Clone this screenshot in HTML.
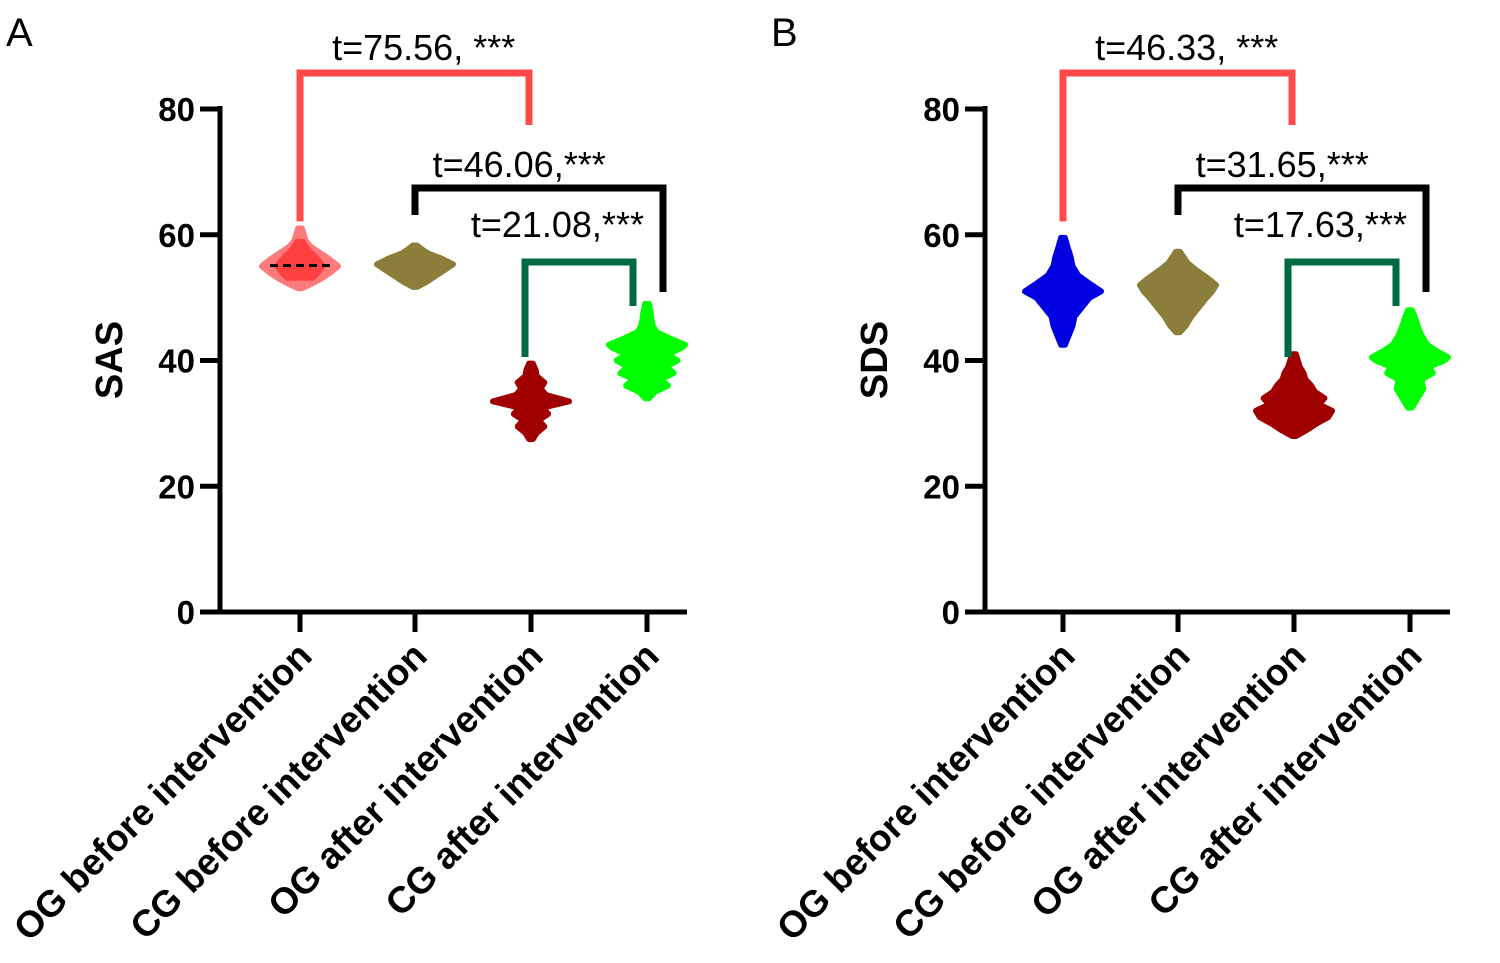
<!DOCTYPE html>
<html><head><meta charset="utf-8"><style>
body{margin:0;background:#fff}
svg{display:block}
text{font-family:"Liberation Sans",sans-serif}
</style></head><body>
<svg id="c" width="1500" height="963" viewBox="0 0 1500 963"></svg>
<script>
const categories=["OG before intervention","CG before intervention","OG after intervention","CG after intervention"];
const yTicks=[0,20,40,60,80];
// violin profiles: values and relative density
const aVals=[[51.5,52.2,53,54,55,56,57,58,59,60,61],[51.7,52.5,53.5,54.5,55.3,56.2,57,57.6,58.3],[27.5,28.5,29.5,30.5,31.5,32.5,33.5,34.5,35.5,36.5,37.5,38.5,39.5],[34,35,36,37,38,39,40,41,42,42.5,43.5,44.5,45.5,46.5,47.5,49]];
const aDens=[[0.05,0.3,0.55,0.8,1,0.8,0.55,0.3,0.15,0.1,0.05],[0.05,0.3,0.55,0.8,1,0.7,0.35,0.2,0.05],[0.05,0.15,0.35,0.2,0.45,0.3,1,0.4,0.25,0.35,0.15,0.12,0.05],[0.05,0.2,0.55,0.35,0.7,0.5,0.8,0.55,0.9,1,0.6,0.25,0.15,0.12,0.1,0.05]];
const bVals=[[42.5,44,45.5,47,48.5,50,51,52,53.5,55,56.5,58,59.5],[44.5,45.5,47,48.5,50,51,52,53,54.5,55.5,57.3],[28,29,30,31,32,33,34,35,36,37,38,39,41],[32.5,34,35.5,37,38,39,40,40.5,41.5,42.5,44,45.5,47,48]];
const bDens=[[0.05,0.15,0.25,0.3,0.5,0.7,1,0.75,0.4,0.25,0.2,0.12,0.05],[0.05,0.2,0.35,0.55,0.75,0.9,1,0.8,0.45,0.25,0.05],[0.05,0.35,0.6,0.9,1,0.65,0.8,0.55,0.45,0.3,0.25,0.15,0.05],[0.05,0.2,0.35,0.3,0.6,0.5,0.9,1,0.7,0.45,0.3,0.2,0.12,0.05]];
const colorsA=["#ff7b7b","#8b7d3a","#a00000","#00ff00"];
const colorsB=["#0000e0","#8b7d3a","#a00000","#00ff00"];
// comparisons: [from idx, to idx, label]
const compA=[[0,2,"t=75.56, ***"],[1,3,"t=46.06,***"],[2,3,"t=21.08,***"]];
const compB=[[0,2,"t=46.33, ***"],[1,3,"t=31.65,***"],[2,3,"t=17.63,***"]];

const svg=document.getElementById('c');
const NS="http://www.w3.org/2000/svg";
function el(t,a,p){const e=document.createElementNS(NS,t);for(const k in a)e.setAttribute(k,a[k]);(p||svg).appendChild(e);return e;}
const y=v=>612-v*6.2875;

function panel(ax,xs,letter,title,vals,dens,cols,comps,firstDash){
  const g=el('g',{});
  
  
  const L=el('text',{x:ax-214,y:46,'font-size':40},g);L.textContent=letter;
  
  const ya=el('line',{x1:ax,y1:106,x2:ax,y2:613,stroke:'#000','stroke-width':5},g);
  
  const xa=el('line',{x1:ax-2,y1:612,x2:xs[3]+40,y2:612,stroke:'#000','stroke-width':5},g);
  
  yTicks.forEach(t=>{
    el('line',{x1:ax-20,y1:y(t),x2:ax,y2:y(t),stroke:'#000','stroke-width':5},g);
    const tx=el('text',{x:ax-25,y:y(t)+12,'font-size':33,'font-weight':'bold','text-anchor':'end'},g);
    tx.textContent=t;
  });
  const yt=el('text',{transform:`translate(${ax-98},360) rotate(-90)`,'font-size':38,'font-weight':'bold','text-anchor':'middle'},g);
  yt.textContent=title;
  categories.forEach((c,i)=>{
    el('line',{x1:xs[i],y1:612,x2:xs[i],y2:632,stroke:'#000','stroke-width':5},g);
    const t=el('text',{transform:`translate(${xs[i]+14},658) rotate(-45)`,'font-size':37,'font-weight':'bold','text-anchor':'end'},g);
    t.textContent=c;
    const v=vals[i],d=dens[i];let pts=[];
    for(let k=0;k<v.length;k++)pts.push([xs[i]+d[k]*38,y(v[k])]);
    for(let k=v.length-1;k>=0;k--)pts.push([xs[i]-d[k]*38,y(v[k])]);
    const p=el('polygon',{points:pts.map(q=>q.join(',')).join(' '),fill:cols[i],stroke:cols[i],'stroke-width':6,'stroke-linejoin':'round'},g);
    
    if(i===0&&firstDash){
      let ip=[];for(let k=2;k<v.length-2;k++)ip.push([xs[i]+d[k]*24,y(v[k])]);
      for(let k=v.length-3;k>=2;k--)ip.push([xs[i]-d[k]*24,y(v[k])]);
      el('polygon',{points:ip.map(q=>q.join(',')).join(' '),fill:'#ff4040',stroke:'#ff4040','stroke-width':4,'stroke-linejoin':'round'},g);
      el('line',{x1:xs[i]-30,y1:y(55.1),x2:xs[i]+30,y2:y(55.1),stroke:'#000','stroke-width':3,'stroke-dasharray':'8,5'},g);
    }
  });
  const bc=["#ff4a4a","#000","#006a40"],tops=[73,188,262];
  const legs=[[y(61.5)-4,125],[215,292],[357,306]];
  const dx=[[0,-2],[0,16],[-6,-14]];
  const tpos=[[0.54,60],[0.42,177],[0.3,237]];
  comps.forEach((c,j)=>{
    const x1=xs[c[0]]+dx[j][0],x2=xs[c[1]]+dx[j][1];
    const b=el('polyline',{points:`${x1},${legs[j][0]} ${x1},${tops[j]} ${x2},${tops[j]} ${x2},${legs[j][1]}`,fill:'none',stroke:bc[j],'stroke-width':7},g);
    
    const t=el('text',{x:x1+(x2-x1)*tpos[j][0],y:tpos[j][1],'font-size':36,'text-anchor':'middle'},g);
    t.textContent=c[2];
  });
}
panel(220,[300,415,531,647],"A","SAS",aVals,aDens,colorsA,compA,true);
panel(985,[1063,1178,1294,1410],"B","SDS",bVals,bDens,colorsB,compB,false);
</script>
</body></html>
